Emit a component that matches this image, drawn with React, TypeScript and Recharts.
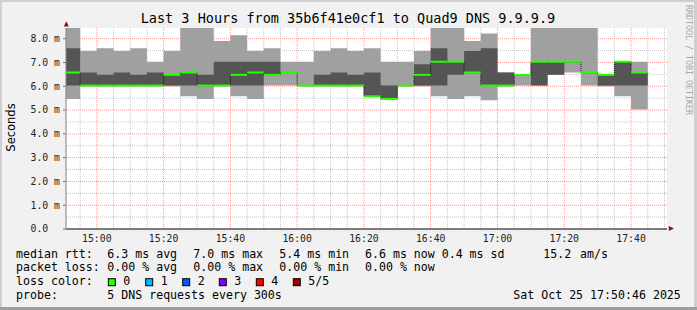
import React from "react";
import { ComposedChart, Area, Line, XAxis, YAxis, CartesianGrid } from "recharts";

// 5 minute probe slots (start of each step), last entry closes the final step
const slots = [
  "14:50", "14:55", "15:00", "15:05", "15:10", "15:15", "15:20", "15:25", "15:30", "15:35",
  "15:40", "15:45", "15:50", "15:55", "16:00", "16:05", "16:10", "16:15", "16:20", "16:25",
  "16:30", "16:35", "16:40", "16:45", "16:50", "16:55", "17:00", "17:05", "17:10", "17:15",
  "17:20", "17:25", "17:30", "17:35", "17:40",
];
const slotEnd = "17:45";

// rtt in ms: fastest, 2nd, median, 4th, slowest of the 5 requests
const rttMin = [
  5.47, 6.0, 6.0, 6.0, 6.0, 6.0, 6.0, 5.58, 5.47, 6.0,
  5.58, 5.47, 6.03, 6.03, 6.0, 6.0, 6.0, 6.0, 5.55, 5.45,
  6.0, 6.0, 5.58, 5.47, 5.58, 5.41, 6.0, 6.03, 6.03, 6.48,
  6.58, 6.03, 6.0, 5.58, 5.02,
];
const rttLow = [
  6.03, 6.03, 6.03, 6.03, 6.03, 6.03, 6.03, 6.03, 6.0, 6.03,
  6.03, 6.03, 6.46, 6.56, 6.03, 6.03, 6.03, 6.03, 5.58, 5.47,
  6.03, 6.03, 6.03, 6.48, 6.55, 6.03, 6.03, 6.46, 6.03, 6.48,
  7.0, 6.55, 6.03, 6.03, 6.03,
];
const rttMedian = [
  6.58, 6.03, 6.03, 6.03, 6.03, 6.03, 6.48, 6.58, 6.03, 6.03,
  6.48, 6.58, 6.48, 6.58, 6.03, 6.03, 6.03, 6.03, 5.58, 5.47,
  6.03, 6.48, 7.03, 7.03, 6.58, 6.03, 6.03, 6.48, 7.03, 7.03,
  7.03, 6.58, 6.48, 7.03, 6.58,
];
const rttHigh = [
  7.6, 6.58, 6.48, 6.58, 6.48, 6.58, 6.5, 6.6, 6.48, 7.03,
  7.03, 7.03, 7.03, 6.6, 6.05, 6.48, 6.58, 6.48, 6.58, 6.03,
  6.05, 6.93, 7.6, 7.05, 7.48, 7.6, 6.58, 6.5, 7.05, 7.05,
  7.05, 6.6, 6.5, 7.05, 6.6,
];
const rttMax = [
  8.6, 7.48, 7.6, 7.48, 7.6, 7.03, 7.48, 8.6, 8.6, 7.9,
  8.15, 7.48, 7.6, 7.03, 7.03, 7.48, 7.6, 7.48, 7.6, 7.03,
  7.03, 7.48, 8.6, 8.6, 7.9, 8.22, 6.58, 6.5, 8.6, 8.6,
  8.6, 8.6, 6.5, 7.05, 7.03,
];

const xTickLabels = ["15:00", "15:20", "15:40", "16:00", "16:20", "16:40", "17:00", "17:20", "17:40"];
const yTicks = [0, 1, 2, 3, 4, 5, 6, 7, 8];
const viewStart = "14:50:46";
const viewEnd = "17:50:46";

const toMin = (s: string) => {
  const [h, m, sec] = s.split(":").map(Number);
  return h * 60 + m + (sec || 0) / 60;
};

const rows = slots.map((s, i) => ({
  t: toMin(s),
  outer: [rttMin[i], rttMax[i]],
  inner: [rttLow[i], rttHigh[i]],
  median: rttMedian[i],
}));
const last = rows[rows.length - 1];
const data = [...rows, { ...last, t: toMin(slotEnd) }];

const xMajor = xTickLabels.map(toMin);
const xMinor: number[] = [];
for (let m = toMin("14:55"); m <= toMin("17:50"); m += 5) if (!xMajor.includes(m)) xMinor.push(m);
const yMinor = yTicks.slice(0, -1).map((v) => v + 0.5);

const MONO = "'DejaVu Sans Mono', monospace";
const GREEN = "#26ff00";

const MedianDash = (p: any) => {
  const { cx, cy, index, points } = p;
  const next = points && points[index + 1];
  if (!next || cy == null) return <g key={`m${index}`} />;
  return <line key={`m${index}`} x1={cx} x2={next.x} y1={cy} y2={cy} stroke={GREEN} strokeWidth={2} />;
};

const XTick = ({ x, y, payload }: any) => (
  <text x={x} y={y + 12.7} textAnchor="middle" fontFamily={MONO} fontSize={9.8} fill="#222">
    {xTickLabels[xMajor.indexOf(payload.value)]}
  </text>
);

const YTick = ({ x, y, payload }: any) => (
  <text x={x - 32.5} y={y + 3.3} textAnchor="start" fontFamily={MONO} fontSize={9.8} fill="#222">
    {payload.value === 0 ? "0.0" : `${payload.value.toFixed(1)} m`}
  </text>
);

const legend: [number, number, string][] = [
  [16, 257.6, "median rtt:"],
  [107.3, 257.6, "6.3 ms avg"],
  [193.3, 257.6, "7.0 ms max"],
  [279.3, 257.6, "5.4 ms min"],
  [365, 257.6, "6.6 ms now"],
  [441.7, 257.6, "0.4 ms sd"],
  [543.3, 257.6, "15.2"],
  [580, 257.6, "am/s"],
  [16, 271.4, "packet loss:"],
  [107.3, 271.4, "0.00 % avg"],
  [193.3, 271.4, "0.00 % max"],
  [279.3, 271.4, "0.00 % min"],
  [365, 271.4, "0.00 % now"],
  [16, 285.2, "loss color:"],
  [16, 299, "probe:"],
  [107.3, 299, "5 DNS requests every 300s"],
  [513.3, 299, "Sat Oct 25 17:50:46 2025"],
];
const lossColors = [
  { label: "0", color: "#26ff00", x: 108.3 },
  { label: "1", color: "#00b8ff", x: 145.7 },
  { label: "2", color: "#0059ff", x: 182.7 },
  { label: "3", color: "#7e00ff", x: 219.3 },
  { label: "4", color: "#ff0000", x: 256.3 },
  { label: "5/5", color: "#a10000", x: 293.3 },
];

export default function App() {
  return (
    <div style={{ position: "absolute", left: 0, top: 0, width: 697, height: 310, background: "#f1f1f1", overflow: "hidden" }}>
      <ComposedChart width={697} height={310} data={data} margin={{ top: 28, right: 30, bottom: 0, left: 0 }}>
        <CartesianGrid fill="#ffffff" horizontal={false} vertical={false} />
        <Area dataKey="outer" type="stepAfter" stroke="none" fill="#a0a0a0" fillOpacity={1} isAnimationActive={false} />
        <Area dataKey="inner" type="stepAfter" stroke="none" fill="#555555" fillOpacity={1} isAnimationActive={false} />
        <CartesianGrid
          verticalValues={xMinor}
          horizontalValues={yMinor}
          stroke="#c4c4c4"
          strokeDasharray="1 1"
        />
        <CartesianGrid
          verticalValues={xMajor}
          horizontalValues={yTicks.slice(1)}
          stroke="#f29a9a"
          strokeDasharray="1 1"
        />
        <Line
          dataKey="median"
          type="stepAfter"
          stroke="#111"
          strokeWidth={1}
          strokeDasharray="1 1"
          dot={MedianDash}
          activeDot={false}
          isAnimationActive={false}
        />
        <XAxis
          dataKey="t"
          type="number"
          domain={[toMin(viewStart), toMin(viewEnd)]}
          allowDataOverflow
          ticks={xMajor}
          height={81}
          tickLine={false}
          tickSize={0}
          tickMargin={0}
          tick={<XTick />}
          axisLine={{ stroke: "#000", strokeWidth: 1 }}
          interval={0}
        />
        <YAxis
          type="number"
          domain={[0, 8.45]}
          allowDataOverflow
          ticks={yTicks}
          width={66}
          tickSize={3}
          tickMargin={0}
          tickLine={{ stroke: "#777" }}
          tick={<YTick />}
          axisLine={{ stroke: "#808080", strokeWidth: 1 }}
          interval={0}
        />
      </ComposedChart>
      <svg width={697} height={310} style={{ position: "absolute", left: 0, top: 0, pointerEvents: "none" }}>
        <rect x={0} y={0} width={697} height={2} fill="#cfcfcf" />
        <rect x={0} y={0} width={2} height={310} fill="#cfcfcf" />
        <rect x={694} y={0} width={3} height={310} fill="#cfcfcf" />
        <rect x={0} y={307} width={697} height={3} fill="#9e9e9e" />
        <polygon points="63.8,26.5 68.8,26.5 66.3,21.3" fill="#8b1010" />
        <polygon points="668.8,226 668.8,231 674,228.5" fill="#8b1010" />
        <text x={348} y={23.3} textAnchor="middle" fontFamily={MONO} fontSize={13.5} fill="#000">
          Last 3 Hours from 35b6f41e0cf1 to Quad9 DNS 9.9.9.9
        </text>
        <text transform="translate(15,127.5) rotate(-90)" textAnchor="middle" fontFamily="'DejaVu Sans', sans-serif" fontSize={11.5} fill="#000">
          Seconds
        </text>
        <text transform="translate(685.5,5) rotate(90)" textAnchor="start" fontFamily={MONO} fontSize={8.3} fill="#a8a8a8">
          RRDTOOL / TOBI OETIKER
        </text>
        {legend.map(([x, y, s], i) => (
          <text key={i} x={x} y={y} fontFamily={MONO} fontSize={11.6} fill="#000" style={{ whiteSpace: "pre" }}>
            {s}
          </text>
        ))}
        {lossColors.map((c) => (
          <g key={c.label}>
            <rect x={c.x} y={278.7} width={7} height={7} fill={c.color} stroke="#000" strokeWidth={1} />
            <text x={c.x + 15} y={285.2} fontFamily={MONO} fontSize={11.6} fill="#000">
              {c.label}
            </text>
          </g>
        ))}
      </svg>
    </div>
  );
}
